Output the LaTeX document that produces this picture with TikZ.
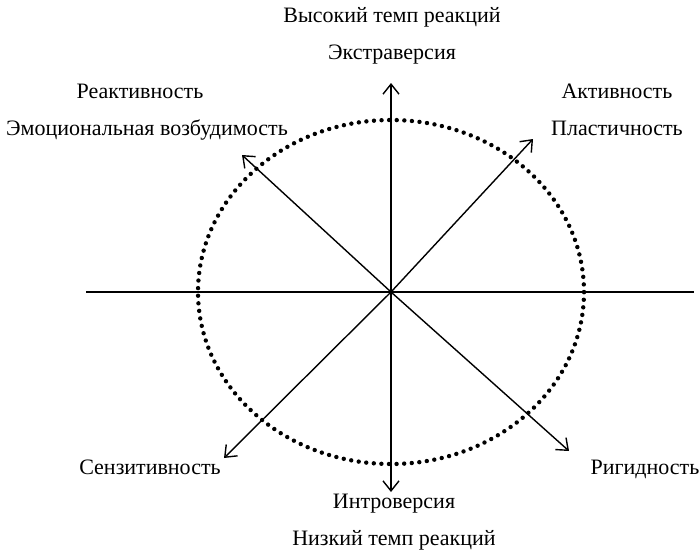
\documentclass[tikz,border=0pt]{standalone}
\usepackage{fontspec}
\setmainfont{Liberation Serif}
\usetikzlibrary{arrows.meta, positioning}

\begin{document}
\begin{tikzpicture}[x=1pt, y=-1pt, node distance = 0cm,
        label/.style={font=\fontsize{22}{26}\selectfont, inner sep=0pt, text height=16pt, text depth=5pt},
        axis/.style={draw, line width=1.4pt},
        ray/.style={draw, line width=1.4pt, -{Straight Barb[length=10pt, width=16pt, line width=1.4pt]}},
        orbit/.style={draw, line width=4.4pt, line cap=round, dash pattern=on 0pt off 7.6pt}
    ]
        \useasboundingbox (0,0) rectangle (700,555);
        % Centre and arrow ends
        \coordinate (o) at (391,292);
        \coordinate (n) at (391,83);
        \coordinate (s) at (391,492);
        \coordinate (w) at (86,292);
        \coordinate (e) at (694,292);
        \coordinate (ne) at (533,139);
        \coordinate (nw) at (242,155);
        \coordinate (sw) at (224,458);
        \coordinate (se) at (569,451);
        % Dotted oval
        \path[orbit] (o) ellipse [x radius=193pt, y radius=172pt];
        % Axes
        \path[axis] (w) -- (e);
        \path[ray] (o) -- (n);
        \path[ray] (o) -- (s);
        \path[ray] (o) -- (ne);
        \path[ray] (o) -- (nw);
        \path[ray] (o) -- (sw);
        \path[ray] (o) -- (se);
        % Top
        \node[label] (high) at (392,17) {Высокий темп реакций};
        \node[label, below=16pt of high] (extra) {Экстраверсия};
        % Upper left
        \node[label] (react) at (140,93) {Реактивность};
        \node[label, below=16pt of react, xshift=7pt] (emo) {Эмоциональная возбудимость};
        % Upper right
        \node[label] (act) at (617,93) {Активность};
        \node[label, below=16pt of act] (plast) {Пластичность};
        % Lower corners
        \node[label] (sens) at (150,469) {Сензитивность};
        \node[label] (rigid) at (645,469) {Ригидность};
        % Bottom
        \node[label] (intro) at (394,503) {Интроверсия};
        \node[label, below=16pt of intro] (low) {Низкий темп реакций};

    \end{tikzpicture}
\end{document}
